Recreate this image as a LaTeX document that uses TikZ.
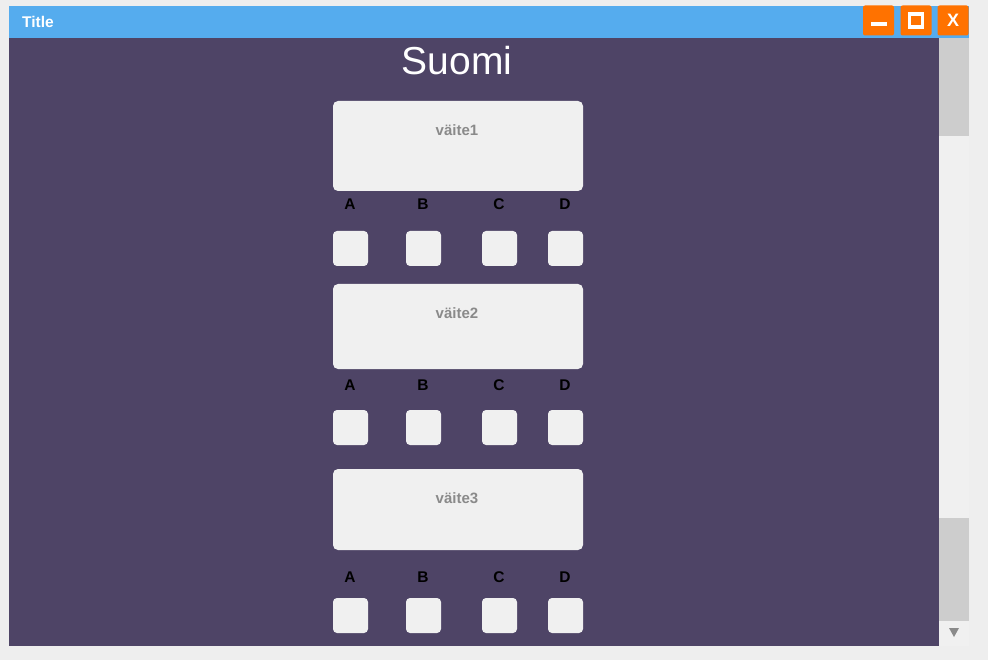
\documentclass[tikz,border=0pt]{standalone}
\usepackage{fontspec}
\setmainfont{Liberation Sans}
\usepackage{xcolor}
\usetikzlibrary{positioning}
\definecolor{pagegray}{HTML}{EEEEEE}
\definecolor{winpurple}{HTML}{4E4466}
\definecolor{barblue}{HTML}{55ACEE}
\definecolor{btnorange}{HTML}{FF7200}
\definecolor{boxwhite}{HTML}{F0F0F0}
\definecolor{thumbgray}{HTML}{CDCDCD}
\definecolor{hintgray}{HTML}{8A8A8A}

\begin{document}
\begin{tikzpicture}[x=1pt, y=-1pt,
  qbox/.style={fill=boxwhite, rounded corners=5pt, minimum width=250pt, inner sep=0pt},
  abox/.style={fill=boxwhite, rounded corners=4pt, minimum width=35pt, minimum height=35pt, inner sep=0pt},
  qtext/.style={text=hintgray, font=\fontsize{15}{18}\selectfont\bfseries, inner sep=0pt},
  letter/.style={text=black, font=\fontsize{15.5}{18}\selectfont\bfseries, inner sep=0pt},
  winbtn/.style={fill=btnorange, rounded corners=2pt, minimum width=31pt, minimum height=30pt, inner sep=0pt, text=white, font=\fontsize{18}{20}\selectfont\bfseries}]
\useasboundingbox (0,0) rectangle (988,660);
\fill[pagegray] (0,0) rectangle (988,660);
\fill[barblue] (9,6) rectangle (969,38);
\fill[winpurple] (9,38) rectangle (939,646);
\fill[boxwhite] (939,38) rectangle (969,646);
\fill[thumbgray] (939,38) rectangle (969,136);
\fill[thumbgray] (939,518) rectangle (969,621);
\fill[hintgray] (949,628) -- (959,628) -- (954,637) -- cycle;

\node[anchor=west, text=white, font=\fontsize{15.5}{18}\selectfont\bfseries, inner sep=0pt] (title) at (22,22) {Title};
\node[winbtn] (min) at (878.5,20.5) {};
\fill[white] (871,22.5) rectangle (887,26.5);
\node[winbtn] (max) at (916,20.5) {};
\draw[white, line width=3.5pt] (909.5,14) rectangle (922.5,27);
\node[winbtn] (close) at (953,20.5) {X};

\node[text=white, font=\fontsize{39}{44}\selectfont, inner sep=0pt] (suomi) at (457,61) {Suomi};

\node[qbox, minimum height=90pt] (q1) at (458,146) {};
\node[qtext] (q1t) at (457,130) {väite1};
\node[letter] (q1A) at (350,204) {A};
\node[letter] (q1B) at (423,204) {B};
\node[letter] (q1C) at (499,204) {C};
\node[letter] (q1D) at (565,204) {D};
\node[abox] (q1a) at (350.5,248.5) {};
\node[abox] (q1b) at (423.5,248.5) {};
\node[abox] (q1c) at (499.5,248.5) {};
\node[abox] (q1d) at (565.5,248.5) {};

\node[qbox, minimum height=85pt] (q2) at (458,326.5) {};
\node[qtext] (q2t) at (457,313) {väite2};
\node[letter] (q2A) at (350,385) {A};
\node[letter] (q2B) at (423,385) {B};
\node[letter] (q2C) at (499,385) {C};
\node[letter] (q2D) at (565,385) {D};
\node[abox] (q2a) at (350.5,427.5) {};
\node[abox] (q2b) at (423.5,427.5) {};
\node[abox] (q2c) at (499.5,427.5) {};
\node[abox] (q2d) at (565.5,427.5) {};

\node[qbox, minimum height=81pt] (q3) at (458,509.5) {};
\node[qtext] (q3t) at (457,498) {väite3};
\node[letter] (q3A) at (350,577) {A};
\node[letter] (q3B) at (423,577) {B};
\node[letter] (q3C) at (499,577) {C};
\node[letter] (q3D) at (565,577) {D};
\node[abox] (q3a) at (350.5,615.5) {};
\node[abox] (q3b) at (423.5,615.5) {};
\node[abox] (q3c) at (499.5,615.5) {};
\node[abox] (q3d) at (565.5,615.5) {};
\end{tikzpicture}
\end{document}
